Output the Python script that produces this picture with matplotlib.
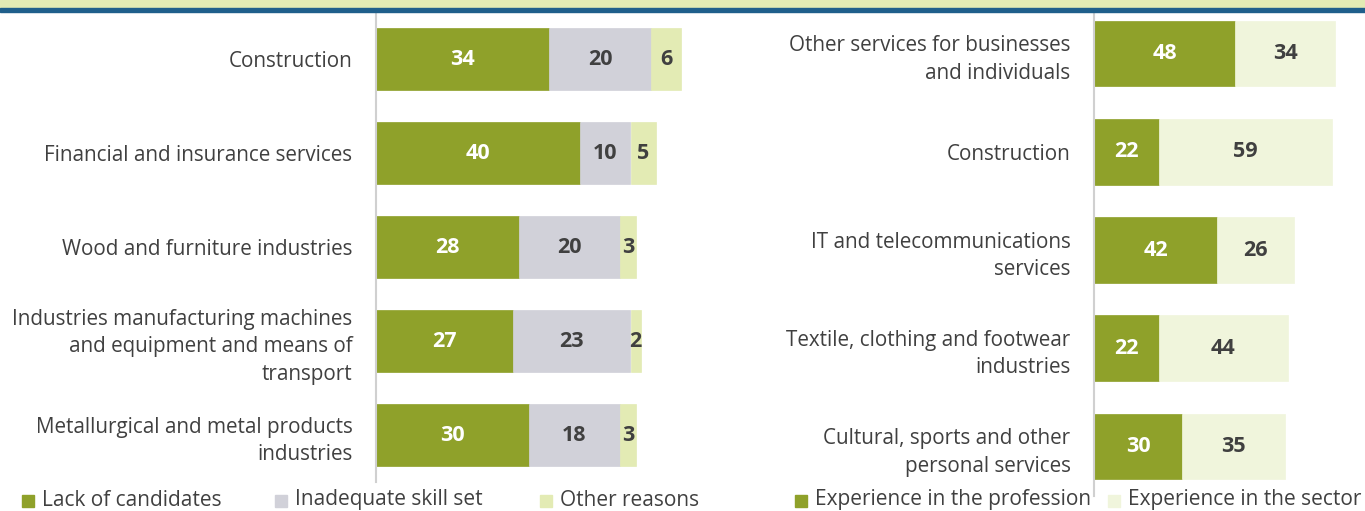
import matplotlib.pyplot as plt
from matplotlib.patches import Rectangle

plt.rcParams['font.family'] = ['Open Sans', 'DejaVu Sans']

# left panel: reasons for hiring difficulties
left_cats = ["Construction", "Financial and insurance services", "Wood and furniture industries",
             "Industries manufacturing machines\nand equipment and means of\ntransport",
             "Metallurgical and metal products\nindustries"]
lack = [34, 40, 28, 27, 30]
skill = [20, 10, 20, 23, 18]
other = [6, 5, 3, 2, 3]
left_labels = ["Lack of candidates", "Inadequate skill set", "Other reasons"]

# right panel: experience required
right_cats = ["Other services for businesses\nand individuals", "Construction",
              "IT and telecommunications\nservices", "Textile, clothing and footwear\nindustries",
              "Cultural, sports and other\npersonal services"]
profession = [48, 22, 42, 22, 30]
sector = [34, 59, 26, 44, 35]
right_labels = ["Experience in the profession", "Experience in the sector"]

DARK = "#8fa12a"
GREY = "#d1d1d9"
LIGHT = "#e3ebb4"
PALE = "#f0f5dc"
TXT = "#404040"

W, H = 1365, 511
fig = plt.figure(figsize=(W / 100, H / 100), dpi=100)

# header band (title cut off in the source)
fig.patches.append(Rectangle((0, 1 - 8 / H), 1, 8 / H, transform=fig.transFigure, color=LIGHT, zorder=0))
fig.patches.append(Rectangle((0, 1 - 12 / H), 1, 4 / H, transform=fig.transFigure, color="#1f5f8b", zorder=1))


def panel(x0, top, bottom, scale, xmax, cats, series, colors):
    width_px = xmax * scale
    ax = fig.add_axes([x0 / W, 1 - bottom / H, width_px / W, (bottom - top) / H])
    y = list(range(len(cats)))
    left = [0] * len(cats)
    for vals, col in zip(series, colors):
        bars = ax.barh(y, vals, left=left, color=col, height=0.67, edgecolor=col, linewidth=0.5)
        tc = "white" if col == DARK else TXT
        for b, v in zip(bars, vals):
            ax.text(b.get_x() + b.get_width() / 2, b.get_y() + b.get_height() / 2, str(v),
                    ha="center", va="center", color=tc, fontsize=15.5, fontweight="bold")
        left = [l + v for l, v in zip(left, vals)]
    ax.set_ylim(len(cats) - 0.5, -0.5)
    ax.set_xlim(0, xmax)
    ax.set_yticks(y)
    ax.set_yticklabels(cats, fontsize=14.9, color=TXT, linespacing=1.42)
    ax.tick_params(axis="y", length=0, pad=17)
    ax.set_xticks([])
    for s in ["top", "right", "bottom"]:
        ax.spines[s].set_visible(False)
    ax.spines["left"].set_color("#d0d0d0")
    ax.spines["left"].set_linewidth(1.5)
    return ax


panel(376, 12, 482, 5.09, 70, left_cats, [lack, skill, other], [DARK, GREY, LIGHT])
panel(1094, 4.5, 495.5, 2.94, 90, right_cats, [profession, sector], [DARK, PALE])


def legend_item(x, label, col):
    fig.patches.append(Rectangle((x / W, 1 - 507 / H), 12 / W, 12 / H, transform=fig.transFigure, color=col))
    fig.text((x + 20) / W, 1 - 500 / H, label, ha="left", va="center", fontsize=15, color=TXT)


for x, lab, col in zip([22, 275, 540], left_labels, [DARK, GREY, LIGHT]):
    legend_item(x, lab, col)
for x, lab, col in zip([795, 1108], right_labels, [DARK, PALE]):
    legend_item(x, lab, col)

fig.savefig("out.png", dpi=100)
